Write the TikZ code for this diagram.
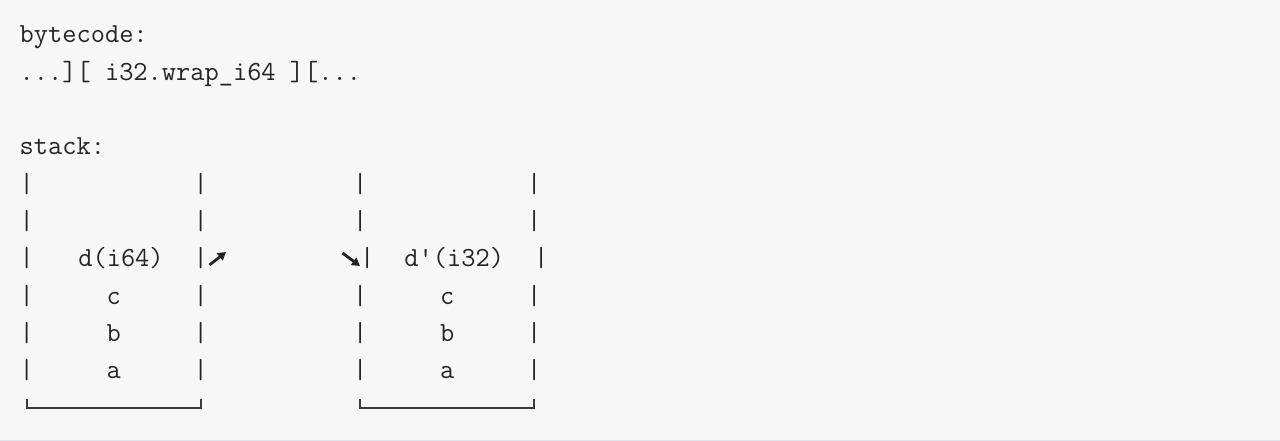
\documentclass[tikz,border=0pt]{standalone}
\usepackage{fontspec}
\usetikzlibrary{arrows.meta}
\definecolor{codebg}{HTML}{F7F7F7}
\definecolor{codeink}{HTML}{242424}
\definecolor{codeline}{HTML}{3A3A3A}
\definecolor{codeedge}{HTML}{E1E5EA}
\tikzset{
  code/.style={anchor=base west,inner sep=0pt,text=codeink,font=\fontsize{27.62pt}{37pt}\ttfamily},
  cell/.style={code,anchor=base},
  bracket/.style={draw=codeline,line width=2.4pt},
  turn/.style={draw=codeink,line width=2.8pt,-{Triangle[length=8pt,width=9pt]}}
}
\begin{document}
\begin{tikzpicture}[x=1pt,y=-1pt]
   \def\cw{14.5}
   \def\xo{19.5}
   \def\lh{37.33}
   \def\yo{43}
   \useasboundingbox (0,0) rectangle (1280,441);
   \fill[codebg] (0,0) rectangle (1280,441);
   \draw[codeedge,line width=1.5pt] (0,440.25) -- (1280,440.25);
   % bytecode line
   \node[code] (title) at (\xo,\yo) {bytecode:};
   \node[code] (instr) at (\xo,{\yo+\lh}) {...][ i32.wrap\_i64 ][...};
   \node[code] (stack) at (\xo,{\yo+3*\lh}) {stack:};
   % walls of the two stacks
   \foreach \r in {4,5,7,8,9}
     \foreach \c in {0,12,23,35}
       \node[cell] (bar-\r-\c) at ({\xo+(\c+0.5)*\cw},{\yo+\r*\lh}) {|};
   \node[cell] (bar-6-0) at ({\xo+0.5*\cw},{\yo+6*\lh}) {|};
   \node[cell] (bar-6-12) at ({\xo+12.5*\cw},{\yo+6*\lh}) {|};
   \node[cell] (bar-6-23) at ({\xo+23.5*\cw+7},{\yo+6*\lh}) {|};
   \node[cell] (bar-6-35) at ({\xo+35.5*\cw+7},{\yo+6*\lh}) {|};
   % values before and after
   \node[cell] (d64) at ({\xo+7*\cw},{\yo+6*\lh}) {d(i64)};
   \node[cell] (d32) at ({\xo+29.5*\cw+7},{\yo+6*\lh}) {d\textquotesingle(i32)};
   \foreach \v/\r in {c/7,b/8,a/9} {
     \node[cell] (\v-left) at ({\xo+6.5*\cw},{\yo+\r*\lh}) {\v};
     \node[cell] (\v-right) at ({\xo+29.5*\cw},{\yo+\r*\lh}) {\v};
   }
   % arrows
   \coordinate (up-from) at (209.5,265);
   \coordinate (up-to) at (226,252);
   \coordinate (down-from) at (342.5,253);
   \coordinate (down-to) at (360,266);
   \draw[turn] (up-from) -- (up-to);
   \draw[turn] (down-from) -- (down-to);
   % bottoms
   \draw[bracket] ({\xo+0.5*\cw},399) |- ({\xo+12.5*\cw},408) -- ({\xo+12.5*\cw},399);
   \draw[bracket] ({\xo+23.5*\cw},399) |- ({\xo+35.5*\cw},408) -- ({\xo+35.5*\cw},399);
\end{tikzpicture}
\end{document}
